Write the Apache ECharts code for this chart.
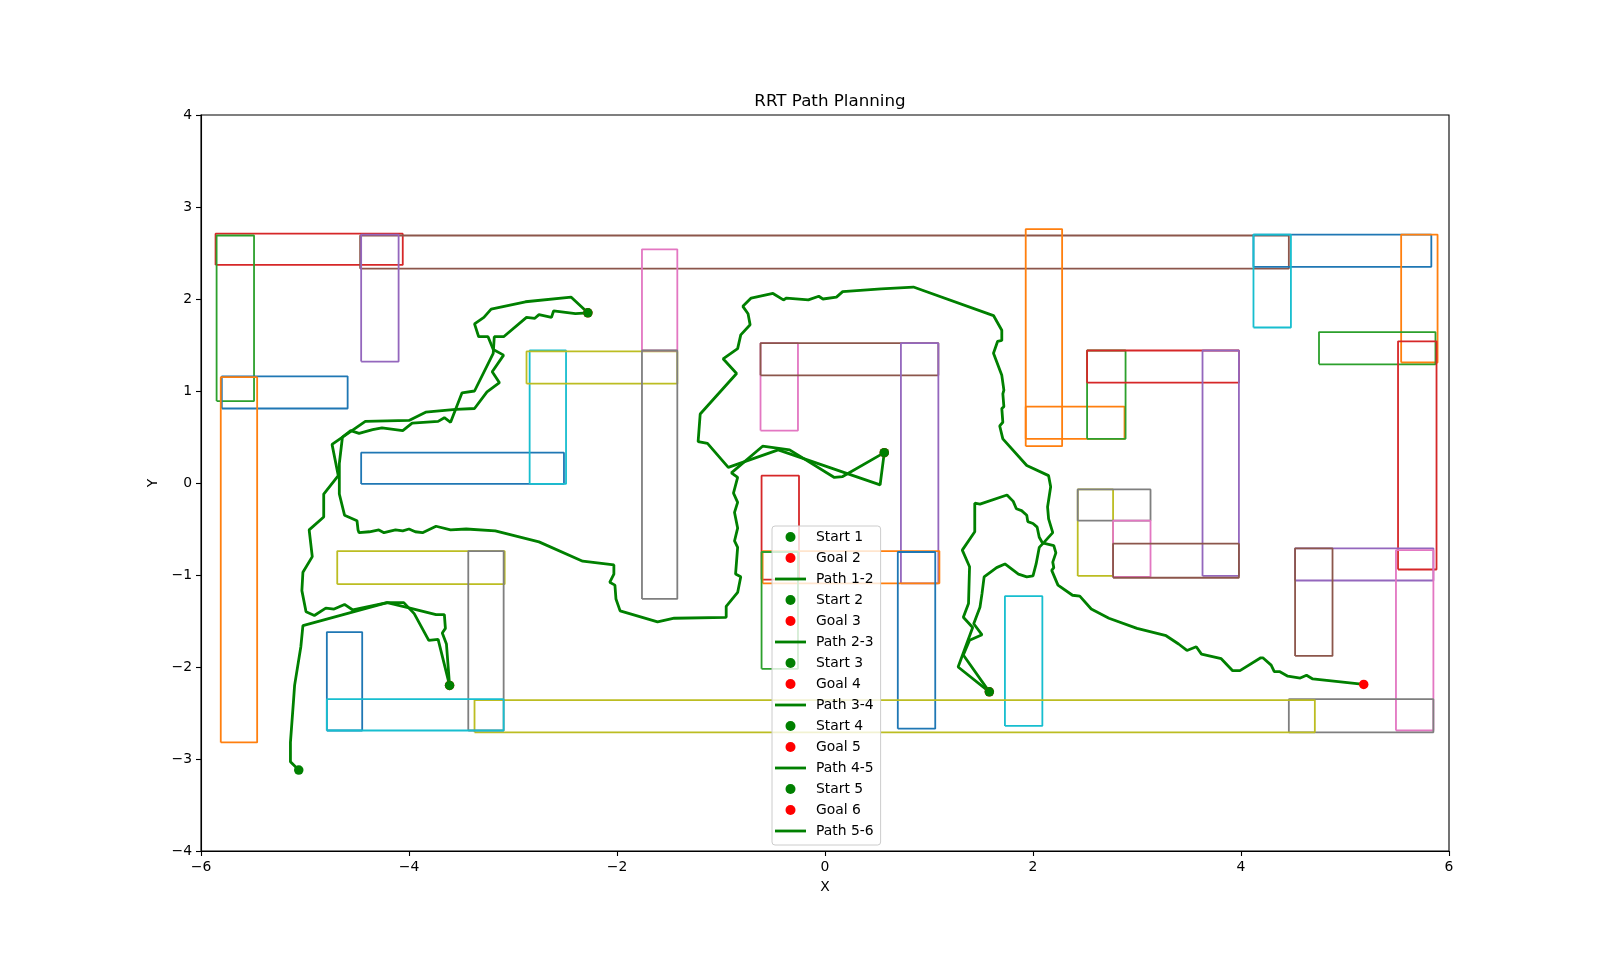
<!DOCTYPE html>
<html>
<head>
<meta charset="utf-8">
<script src="https://cdn.jsdelivr.net/npm/echarts@6/dist/echarts.min.js"></script>
<style>
  html, body { margin: 0; padding: 0; background: #fff; }
  #chart { width: 1610px; height: 956px; }
</style>
</head>
<body>
<div id="chart"></div>
<script>
// ---------- DATA ----------
const xTicks = [-6, -4, -2, 0, 2, 4, 6];
const yTicks = [-4, -3, -2, -1, 0, 1, 2, 3, 4];

// obstacles (rectangles): x from / to, y from / to
const obsX0 = [-5.86,-5.85,-4.47,-4.46,-5.80,-5.81,-4.46,-2.84,-2.87,-1.76,-1.76,-0.62,-0.62,0.73,-0.61,-0.60,-0.61,0.70,1.73,1.93,1.93,2.52,2.52,3.63,2.43,2.43,2.77,2.77,4.12,4.12,5.54,4.75,5.51,4.52,4.52,5.49,4.46,-3.37,-4.69,-3.43,-4.79,-4.79];
const obsX1 = [-4.06,-5.49,4.46,-4.10,-4.59,-5.46,-2.51,-2.49,-1.42,-1.42,-1.42,-0.26,1.09,1.09,-0.25,1.10,-0.26,1.06,2.09,2.28,2.88,2.89,3.98,3.98,2.77,3.13,3.13,3.98,5.83,4.48,5.89,5.87,5.88,5.85,4.88,5.85,5.85,4.71,-3.08,-3.09,-4.45,-3.09];
const obsY0 = [2.37,0.89,2.33,1.32,0.81,-2.82,-0.01,-0.01,1.08,1.44,-1.26,0.57,1.17,-1.09,-1.05,-1.09,-2.02,-2.67,-2.64,0.40,0.48,0.48,1.09,-1.01,-1.01,-0.41,-1.02,-1.03,2.35,1.69,1.31,1.29,-0.94,-1.06,-1.88,-2.69,-2.71,-2.71,-1.10,-2.69,-2.69,-2.69];
const obsY1 = [2.71,2.69,2.69,2.70,1.16,1.15,0.33,1.44,1.43,2.54,1.44,1.52,1.52,1.52,0.08,-0.74,-0.75,-0.75,-1.23,2.76,0.83,1.44,1.44,1.44,-0.07,-0.07,-0.41,-0.66,2.70,2.70,2.70,1.64,1.54,-0.71,-0.71,-0.73,-2.35,-2.36,-0.74,-0.74,-1.62,-2.35];

// starts and goals
const startNames = ['Start 1','Start 2','Start 3','Start 4','Start 5'];
const goalNames  = ['Goal 2','Goal 3','Goal 4','Goal 5','Goal 6'];
const pathNames  = ['Path 1-2','Path 2-3','Path 3-4','Path 4-5','Path 5-6'];
const startX = [-5.06, -3.61, -2.28, 0.57, 1.58];
const startY = [-3.12, -2.20, 1.85, 0.33, -2.27];
const goalX  = [-3.61, -2.28, 0.57, 1.58, 5.18];
const goalY  = [-2.20, 1.85, 0.33, -2.27, -2.19];

// RRT paths
const path12 = [[-5.06,-3.12],[-5.14,-3.03],[-5.14,-2.82],[-5.11,-2.36],[-5.10,-2.20],[-5.04,-1.78],[-5.02,-1.55],[-4.21,-1.30],[-4.05,-1.30],[-3.95,-1.42],[-3.81,-1.71],[-3.72,-1.70],[-3.61,-2.20]];
const path23 = [[-3.61,-2.20],[-3.64,-1.75],[-3.68,-1.63],[-3.65,-1.58],[-3.66,-1.43],[-3.74,-1.43],[-4.03,-1.35],[-4.21,-1.30],[-4.54,-1.38],[-4.62,-1.32],[-4.72,-1.37],[-4.80,-1.36],[-4.91,-1.44],[-4.99,-1.40],[-5.03,-1.17],[-5.02,-0.97],[-4.93,-0.80],[-4.96,-0.51],[-4.82,-0.37],[-4.82,-0.12],[-4.68,0.08],[-4.71,0.25],[-4.74,0.42],[-4.42,0.67],[-4.00,0.68],[-3.84,0.77],[-3.55,0.80],[-3.37,0.81],[-3.25,0.99],[-3.13,1.09],[-3.20,1.21],[-3.09,1.39],[-3.19,1.45],[-3.24,1.59],[-3.33,1.59],[-3.37,1.73],[-3.28,1.80],[-3.21,1.89],[-2.88,1.97],[-2.44,2.02],[-2.28,1.85]];
const path34 = [[-2.28,1.85],[-2.40,1.84],[-2.61,1.87],[-2.63,1.80],[-2.75,1.83],[-2.79,1.79],[-2.87,1.80],[-3.09,1.59],[-3.18,1.59],[-3.19,1.41],[-3.37,1.00],[-3.49,0.98],[-3.60,0.66],[-3.66,0.71],[-3.72,0.67],[-3.97,0.65],[-4.06,0.57],[-4.26,0.60],[-4.35,0.58],[-4.48,0.54],[-4.56,0.57],[-4.64,0.50],[-4.67,0.21],[-4.67,-0.12],[-4.62,-0.35],[-4.50,-0.41],[-4.49,-0.51],[-4.48,-0.54],[-4.38,-0.53],[-4.29,-0.51],[-4.24,-0.54],[-4.13,-0.51],[-4.06,-0.52],[-4.00,-0.50],[-3.94,-0.53],[-3.87,-0.54],[-3.74,-0.47],[-3.60,-0.51],[-3.45,-0.50],[-3.17,-0.52],[-2.75,-0.64],[-2.33,-0.85],[-2.03,-0.89],[-2.03,-0.99],[-2.07,-1.08],[-2.02,-1.11],[-2.01,-1.26],[-1.97,-1.39],[-1.61,-1.51],[-1.45,-1.47],[-0.95,-1.46],[-0.95,-1.34],[-0.84,-1.19],[-0.81,-1.02],[-0.86,-0.99],[-0.84,-0.70],[-0.87,-0.63],[-0.84,-0.49],[-0.87,-0.32],[-0.84,-0.21],[-0.88,-0.11],[-0.84,0.06],[-0.90,0.11],[-0.60,0.40],[-0.34,0.36],[0.09,0.06],[0.17,0.07],[0.57,0.33]];
const path45 = [[0.57,0.33],[0.53,-0.02],[-0.45,0.36],[-0.93,0.17],[-1.13,0.43],[-1.22,0.45],[-1.20,0.75],[-0.85,1.19],[-0.98,1.35],[-0.84,1.46],[-0.81,1.61],[-0.72,1.72],[-0.74,1.84],[-0.79,1.92],[-0.71,2.01],[-0.50,2.06],[-0.40,1.99],[-0.37,2.01],[-0.16,1.99],[-0.06,2.03],[-0.02,2.00],[0.11,2.02],[0.17,2.08],[0.54,2.11],[0.85,2.13],[1.62,1.82],[1.70,1.66],[1.70,1.55],[1.66,1.54],[1.62,1.41],[1.70,1.17],[1.72,1.01],[1.71,0.97],[1.72,0.83],[1.70,0.81],[1.71,0.66],[1.68,0.62],[1.71,0.48],[1.94,0.19],[2.15,0.08],[2.17,-0.04],[2.14,-0.26],[2.15,-0.39],[2.19,-0.54],[2.11,-0.64],[2.06,-0.70],[2.03,-0.88],[2.00,-1.01],[1.94,-1.02],[1.86,-0.99],[1.73,-0.88],[1.65,-0.92],[1.53,-1.02],[1.51,-1.20],[1.49,-1.35],[1.43,-1.53],[1.51,-1.65],[1.39,-1.71],[1.33,-1.87],[1.58,-2.27]];
const path56 = [[1.58,-2.27],[1.28,-2.00],[1.42,-1.57],[1.33,-1.46],[1.38,-1.31],[1.39,-0.91],[1.32,-0.73],[1.44,-0.53],[1.44,-0.22],[1.49,-0.23],[1.75,-0.13],[1.81,-0.20],[1.84,-0.28],[1.89,-0.30],[1.94,-0.35],[1.95,-0.42],[2.00,-0.44],[2.04,-0.48],[2.06,-0.59],[2.09,-0.65],[2.20,-0.68],[2.22,-0.76],[2.19,-0.86],[2.20,-0.92],[2.18,-0.95],[2.24,-1.11],[2.38,-1.22],[2.45,-1.23],[2.56,-1.37],[2.73,-1.47],[3.00,-1.58],[3.28,-1.66],[3.40,-1.75],[3.48,-1.82],[3.57,-1.78],[3.62,-1.86],[3.81,-1.91],[3.92,-2.04],[3.99,-2.04],[4.19,-1.90],[4.21,-1.90],[4.29,-1.98],[4.32,-2.05],[4.37,-2.05],[4.45,-2.10],[4.57,-2.12],[4.63,-2.09],[4.69,-2.13],[5.18,-2.19]];
const paths = [path12, path23, path34, path45, path56];

// ---------- STYLE ----------
const tab10 = ['#d62728','#2ca02c','#8c564b','#9467bd','#1f77b4','#ff7f0e','#1f77b4','#17becf','#bcbd22','#e377c2','#7f7f7f','#e377c2','#8c564b','#9467bd','#d62728','#ff7f0e','#2ca02c','#1f77b4','#17becf','#ff7f0e','#ff7f0e','#2ca02c','#d62728','#9467bd','#bcbd22','#7f7f7f','#e377c2','#8c564b','#1f77b4','#17becf','#ff7f0e','#2ca02c','#d62728','#9467bd','#8c564b','#e377c2','#7f7f7f','#bcbd22','#bcbd22','#7f7f7f','#1f77b4','#17becf'];
const FONT = 'DejaVu Sans';
const fmt = v => String(v).replace('-', '\u2212');
const LINE_ICON = 'path://M0 0H31V2.8H0Z';

const series = [];
obsX0.forEach((x0, i) => {
  const x1 = obsX1[i], y0 = obsY0[i], y1 = obsY1[i];
  series.push({
    type: 'line', silent: true, symbol: 'none', z: 1,
    data: [[x0, y0], [x1, y0], [x1, y1], [x0, y1], [x0, y0]],
    lineStyle: { color: tab10[i], width: 1.8 }
  });
});
const legendData = [];
for (let k = 0; k < 5; k++) {
  series.push({
    name: startNames[k], type: 'scatter', z: 3, symbolSize: 9.5,
    data: [[startX[k], startY[k]]], itemStyle: { color: '#008000', opacity: 1 }
  });
  series.push({
    name: goalNames[k], type: 'scatter', z: 3, symbolSize: 9.5,
    data: [[goalX[k], goalY[k]]], itemStyle: { color: '#ff0000', opacity: 1 }
  });
  series.push({
    name: pathNames[k], type: 'line', z: 3, symbol: 'none',
    data: paths[k], lineStyle: { color: '#008000', width: 2.8 },
    itemStyle: { color: '#008000' }
  });
  legendData.push({ name: startNames[k], icon: 'circle' },
                  { name: goalNames[k], icon: 'circle' },
                  { name: pathNames[k], icon: LINE_ICON });
}

const chart = echarts.init(document.getElementById('chart'), null, { renderer: 'canvas' });
chart.setOption({
  animation: false,
  backgroundColor: '#ffffff',
  textStyle: { fontFamily: FONT },
  title: {
    text: 'RRT Path Planning', left: 825, top: 88, textAlign: 'center',
    textStyle: { fontFamily: FONT, fontSize: 16.7, fontWeight: 'normal', color: '#000' }
  },
  grid: {
    left: 201, right: 161, top: 115, bottom: 105,
    show: true, borderColor: '#000', borderWidth: 1.1, backgroundColor: 'transparent'
  },
  xAxis: {
    type: 'value', min: -6, max: 6, interval: 2,
    name: 'X', nameLocation: 'middle', nameGap: 29,
    nameTextStyle: { fontFamily: FONT, fontSize: 13.9, color: '#000' },
    axisLine: { show: true, onZero: false, lineStyle: { color: '#000', width: 1.1 } },
    axisTick: { show: true, inside: false, length: 5, lineStyle: { color: '#000', width: 1.1 } },
    axisLabel: { margin: 9, fontFamily: FONT, fontSize: 13.9, color: '#000', formatter: fmt,
      customValues: xTicks },
    splitLine: { show: false }
  },
  yAxis: {
    type: 'value', min: -4, max: 4, interval: 1,
    name: 'Y', nameLocation: 'middle', nameGap: 38, nameRotate: 90,
    nameTextStyle: { fontFamily: FONT, fontSize: 13.9, color: '#000' },
    axisLine: { show: true, onZero: false, lineStyle: { color: '#000', width: 1.1 } },
    axisTick: { show: true, inside: false, length: 5, lineStyle: { color: '#000', width: 1.1 } },
    axisLabel: { margin: 9, fontFamily: FONT, fontSize: 13.9, color: '#000', formatter: fmt,
      customValues: yTicks },
    splitLine: { show: false }
  },
  legend: {
    orient: 'vertical', left: 772, top: 526,
    data: legendData,
    itemWidth: 31, itemHeight: 10, itemGap: 7,
    padding: [4, 7, 7, 3],
    backgroundColor: 'rgba(255,255,255,0.8)',
    borderColor: '#cccccc', borderWidth: 1, borderRadius: 3,
    selectedMode: false,
    textStyle: { fontFamily: FONT, fontSize: 13.9, color: '#000', padding: [0, 0, 0, 5] },
    z: 10
  },
  series: series
});
</script>
</body>
</html>
